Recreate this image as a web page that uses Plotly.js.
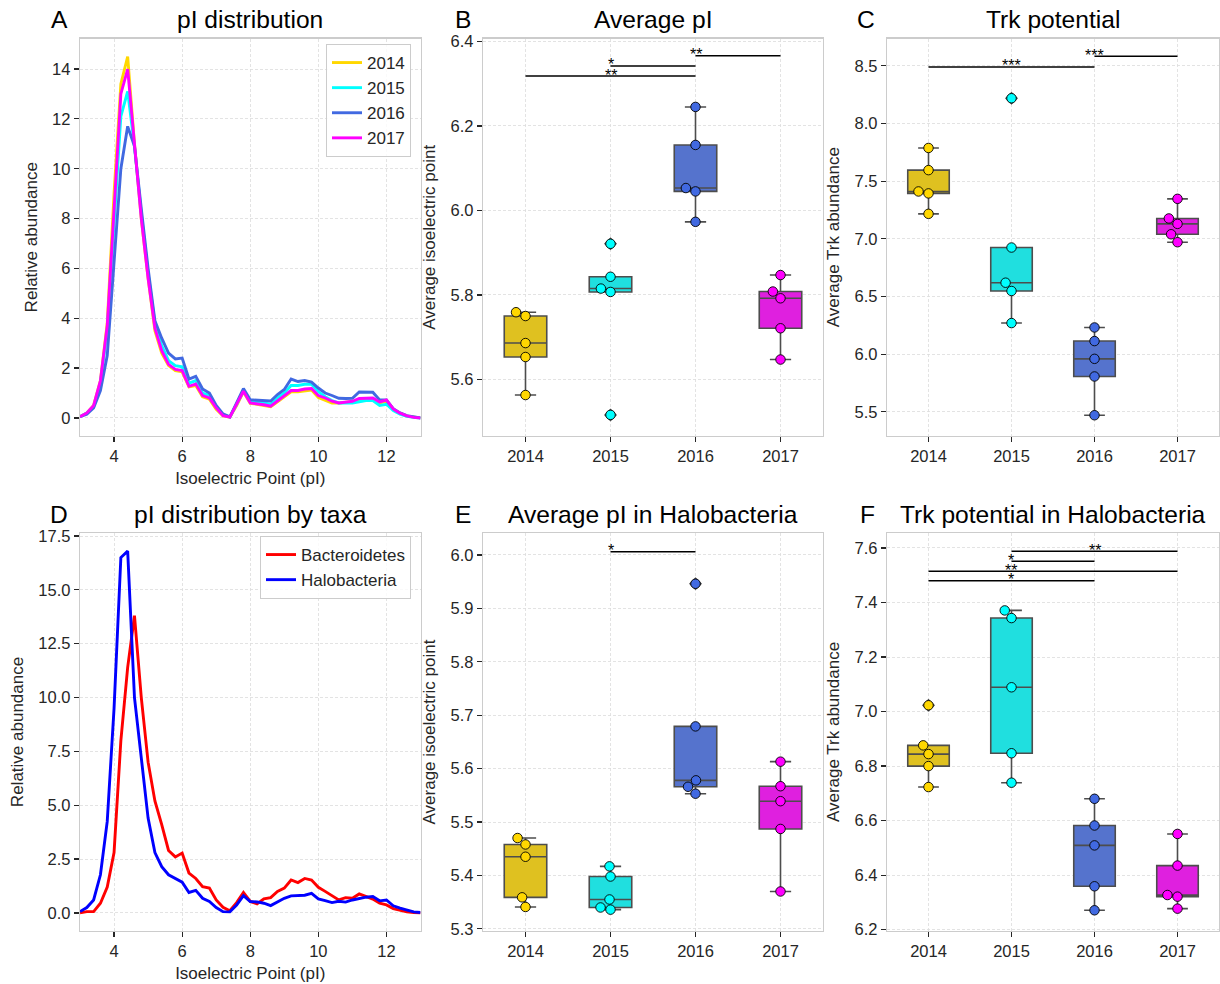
<!DOCTYPE html>
<html>
<head>
<meta charset="utf-8">
<script src="https://cdn.plot.ly/plotly-3.0.1.min.js"></script>
<style>html,body{margin:0;padding:0;background:#fff;}#chart{width:1220px;height:984px;}</style>
</head>
<body>
<div id="chart"></div>
<script>
// ---------------- data ----------------
const pI = [3.0,3.2,3.4,3.6,3.8,4.0,4.2,4.4,4.6,4.8,5.0,5.2,5.4,5.6,5.8,6.0,6.2,6.4,6.6,6.8,7.0,7.2,7.4,7.6,7.8,8.0,8.2,8.4,8.6,8.8,9.0,9.2,9.4,9.6,9.8,10.0,10.2,10.4,10.6,10.8,11.0,11.2,11.4,11.6,11.8,12.0,12.2,12.4,12.6,12.8,13.0];

const abund2014 = [0.05,0.2,0.5,1.5,3.8,9.0,13.4,14.5,11.0,8.0,5.6,3.5,2.6,2.1,1.9,1.85,1.25,1.3,0.85,0.75,0.35,0.08,0.03,0.5,1.05,0.58,0.55,0.5,0.45,0.65,0.85,1.05,1.05,1.1,1.12,0.82,0.72,0.6,0.6,0.62,0.65,0.72,0.75,0.75,0.6,0.68,0.34,0.18,0.07,0.02,0.0];
const abund2015 = [0.05,0.2,0.45,1.4,3.5,8.0,12.1,13.1,10.9,8.2,5.8,3.8,2.9,2.3,2.1,2.05,1.4,1.5,1.0,0.9,0.45,0.12,0.04,0.55,1.1,0.65,0.63,0.6,0.55,0.8,1.0,1.3,1.3,1.35,1.35,1.05,0.85,0.7,0.6,0.6,0.6,0.65,0.7,0.7,0.5,0.55,0.3,0.15,0.06,0.02,0.0];
const abund2016 = [0.05,0.15,0.4,1.1,2.5,6.3,10.0,11.7,10.9,8.4,6.0,3.9,3.2,2.6,2.37,2.4,1.56,1.67,1.16,1.0,0.5,0.16,0.04,0.6,1.18,0.73,0.71,0.7,0.68,0.94,1.14,1.56,1.46,1.5,1.44,1.2,1.0,0.9,0.79,0.78,0.79,1.04,1.04,1.03,0.72,0.72,0.37,0.2,0.09,0.03,0.0];
const abund2017 = [0.05,0.2,0.5,1.5,3.7,8.5,13.0,14.0,10.9,8.0,5.6,3.6,2.7,2.15,1.95,1.9,1.27,1.36,0.9,0.8,0.4,0.09,0.03,0.53,1.07,0.6,0.57,0.53,0.47,0.67,0.87,1.1,1.1,1.16,1.18,0.9,0.8,0.67,0.6,0.63,0.67,0.78,0.8,0.8,0.64,0.72,0.36,0.19,0.08,0.02,0.0];

const bacteroidetes = [0.0,0.06,0.06,0.45,1.2,2.8,8.0,11.4,13.8,10.0,7.0,5.2,4.1,2.9,2.6,2.78,1.85,1.6,1.22,1.15,0.6,0.26,0.1,0.48,0.95,0.53,0.42,0.65,0.71,1.0,1.15,1.53,1.41,1.6,1.53,1.19,1.0,0.79,0.6,0.71,0.68,0.88,0.76,0.64,0.45,0.37,0.2,0.11,0.05,0.02,0.0];
const halobacteria = [0.06,0.25,0.6,1.77,4.25,9.5,16.5,16.8,10.0,7.2,4.4,2.8,2.15,1.77,1.58,1.43,0.95,1.05,0.68,0.53,0.25,0.06,0.05,0.37,0.8,0.53,0.51,0.45,0.34,0.51,0.68,0.79,0.8,0.82,0.91,0.65,0.57,0.48,0.54,0.5,0.6,0.68,0.73,0.76,0.56,0.6,0.33,0.22,0.12,0.05,0.02];

const years = ['2014','2015','2016','2017'];

// Panel B: average pI
const avgPI_2014 = [5.759,5.750,5.686,5.653,5.563];
const avgPI_2015 = [5.921,5.843,5.815,5.807,5.516];
const avgPI_2016 = [6.245,6.155,6.053,6.045,5.973];
const avgPI_2017 = [5.847,5.808,5.792,5.721,5.647];
// Panel C: Trk potential
const trk_2014 = [7.788,7.596,7.411,7.394,7.217];
const trk_2015 = [8.219,6.925,6.620,6.548,6.270];
const trk_2016 = [6.232,6.114,5.960,5.807,5.471];
const trk_2017 = [7.347,7.177,7.130,7.040,6.971];
// Panel E: average pI in Halobacteria
const haloPI_2014 = [5.470,5.458,5.435,5.359,5.341];
const haloPI_2015 = [5.417,5.398,5.355,5.340,5.336];
const haloPI_2016 = [5.946,5.679,5.578,5.566,5.553];
const haloPI_2017 = [5.613,5.567,5.539,5.487,5.370];
// Panel F: Trk potential in Halobacteria
const haloTrk_2014 = [7.023,6.876,6.844,6.800,6.723];
const haloTrk_2015 = [7.371,7.343,7.089,6.847,6.739];
const haloTrk_2016 = [6.680,6.582,6.509,6.359,6.271];
const haloTrk_2017 = [6.551,6.435,6.327,6.321,6.277];

// significance bars: [from year index, to year index], bar level, label
const sigB_pairs = [[0,2],[1,2],[2,3]];
const sigB_levels = [6.318,6.342,6.366];
const sigB_labels = ['**','*','**'];
const sigC_pairs = [[0,2],[2,3]];
const sigC_levels = [8.491,8.584];
const sigC_labels = ['***','***'];
const sigE_pairs = [[1,2]];
const sigE_levels = [6.006];
const sigE_labels = ['*'];
const sigF_pairs = [[0,2],[0,3],[1,2],[1,3]];
const sigF_levels = [7.480,7.515,7.551,7.588];
const sigF_labels = ['*','**','*','**'];

// ---------------- style ----------------
const FONT = 'Liberation Sans, Arial, Helvetica, sans-serif';
const lineColors = ['#FFD700','#00FFFF','#4169E1','#FF00FF'];
const boxFill = ['#DFC120','#20DFDF','#5573CD','#DF20DF'];
const edgeGray = '#4d4d4d';
const W = 1220, H = 984;
const colPx = [[80,420.5],[483,823],[887,1219]];
const rowPx = [[38.5,436],[533,931]];
const dom = {
  x: colPx.map(c => [c[0]/W, c[1]/W]),
  y: rowPx.map(r => [1 - r[1]/H, 1 - r[0]/H])
};

const traces = [];
const annotations = [];

// line panels
const lineSeries = [abund2014, abund2015, abund2016, abund2017];
lineSeries.forEach((s, i) => {
  traces.push({type:'scatter', mode:'lines', x:pI, y:s, name:years[i],
    line:{color:lineColors[i], width:2.9}, xaxis:'x', yaxis:'y', legend:'legend', hoverinfo:'skip'});
});
traces.push({type:'scatter', mode:'lines', x:pI, y:bacteroidetes, name:'Bacteroidetes',
  line:{color:'#FF0000', width:2.9}, xaxis:'x4', yaxis:'y4', legend:'legend2', hoverinfo:'skip'});
traces.push({type:'scatter', mode:'lines', x:pI, y:halobacteria, name:'Halobacteria',
  line:{color:'#0000FF', width:2.9}, xaxis:'x4', yaxis:'y4', legend:'legend2', hoverinfo:'skip'});

// swarm offsets (pixel space), like seaborn's beeswarm
function swarm(vals, pxPerY, d) {
  const idx = vals.map((v,i)=>i).sort((a,b)=>vals[a]-vals[b]);
  const placed = []; const off = new Array(vals.length).fill(0);
  for (const i of idx) {
    const y = vals[i]*pxPerY;
    const cands = [0];
    for (const p of placed) {
      const dyy = Math.abs(y - p.y);
      if (dyy < d) { const dxx = Math.sqrt(d*d - dyy*dyy); cands.push(p.x - dxx, p.x + dxx); }
    }
    cands.sort((a,b) => (Math.abs(a) - Math.abs(b)) || (a - b));
    let chosen = 0;
    for (const c of cands) {
      if (placed.every(p => (p.x-c)*(p.x-c) + (p.y-y)*(p.y-y) >= d*d - 1e-6)) { chosen = c; break; }
    }
    placed.push({x:chosen, y:y}); off[i] = chosen;
  }
  return off;
}

const boxPanels = [
  {ax:'2', col:1, row:0, groups:[avgPI_2014,avgPI_2015,avgPI_2016,avgPI_2017], range:[5.466,6.407], dtick:0.2, pairs:sigB_pairs, levels:sigB_levels, labels:sigB_labels,
   ytitle:'Average isoelectric point'},
  {ax:'3', col:2, row:0, groups:[trk_2014,trk_2015,trk_2016,trk_2017], range:[5.291,8.737], dtick:0.5, pairs:sigC_pairs, levels:sigC_levels, labels:sigC_labels,
   ytitle:'Average Trk abundance'},
  {ax:'5', col:1, row:1, groups:[haloPI_2014,haloPI_2015,haloPI_2016,haloPI_2017], range:[5.296,6.041], dtick:0.1, pairs:sigE_pairs, levels:sigE_levels, labels:sigE_labels,
   ytitle:'Average isoelectric point'},
  {ax:'6', col:2, row:1, groups:[haloTrk_2014,haloTrk_2015,haloTrk_2016,haloTrk_2017], range:[6.195,7.655], dtick:0.2, pairs:sigF_pairs, levels:sigF_levels, labels:sigF_labels,
   ytitle:'Average Trk abundance'}
];

boxPanels.forEach(P => {
  const xa = 'x'+P.ax, ya = 'y'+P.ax;
  const plotH = rowPx[P.row][1] - rowPx[P.row][0];
  const plotW = colPx[P.col][1] - colPx[P.col][0];
  const pxPerY = plotH / (P.range[1] - P.range[0]);
  const pxPerX = plotW / 4;
  P.groups.forEach((vals, g) => {
    traces.push({type:'box', y:vals, x0:g, width:0.5, xaxis:xa, yaxis:ya, showlegend:false,
      fillcolor:boxFill[g], line:{color:edgeGray, width:1.6}, whiskerwidth:0.5,
      quartilemethod:'inclusive', boxpoints:'outliers', pointpos:0, jitter:0,
      marker:{symbol:'diamond', size:10, color:edgeGray, line:{width:0}}, hoverinfo:'skip'});
    const off = swarm(vals, pxPerY, 10.2);
    traces.push({type:'scatter', mode:'markers', x:off.map(o => g + o/pxPerX), y:vals, xaxis:xa, yaxis:ya, showlegend:false,
      marker:{size:9.5, color:lineColors[g], line:{color:'#000000', width:0.9}}, hoverinfo:'skip'});
  });
  P.pairs.forEach((pr, k) => {
    traces.push({type:'scatter', mode:'lines', x:[pr[0], pr[1]], y:[P.levels[k], P.levels[k]], xaxis:xa, yaxis:ya,
      showlegend:false, line:{color:'#000000', width:1.5}, hoverinfo:'skip'});
    annotations.push({xref:xa, yref:ya, x:Math.floor((pr[0]+pr[1])/2), y:P.levels[k], text:P.labels[k], showarrow:false,
      xanchor:'center', yanchor:'middle', yshift:1, font:{family:FONT, size:16, color:'#000000'}});
  });
});

// titles & letters
const panelTitles = [
  {ax:'', text:'pI distribution', letter:'A'},
  {ax:'2', text:'Average pI', letter:'B'},
  {ax:'3', text:'Trk potential', letter:'C'},
  {ax:'4', text:'pI distribution by taxa', letter:'D'},
  {ax:'5', text:'Average pI in Halobacteria', letter:'E'},
  {ax:'6', text:'Trk potential in Halobacteria', letter:'F'}
];
panelTitles.forEach(t => {
  annotations.push({xref:'x'+t.ax+' domain', yref:'y'+t.ax+' domain', x:0.5, y:1, xanchor:'center', yanchor:'bottom', yshift:3,
    text:t.text, showarrow:false, font:{family:FONT, size:24.6, color:'#000000'}});
  annotations.push({xref:'x'+t.ax+' domain', yref:'y'+t.ax+' domain', x:0, y:1, xanchor:'right', yanchor:'bottom', yshift:3, xshift:-10,
    text:t.letter, showarrow:false, font:{family:FONT, size:24.6, color:'#000000'}});
});

const axBase = {showline:true, mirror:true, linecolor:'#cccccc', linewidth:1.25, ticks:'outside', ticklen:5, tickwidth:1.2,
  tickcolor:'#262626', showgrid:true, gridcolor:'#dcdcdc', griddash:'3px,2px', gridwidth:0.8, zeroline:false,
  tickfont:{family:FONT, size:16.5, color:'#262626'}, fixedrange:true, automargin:false};
const titleFont = {family:FONT, size:17, color:'#262626'};

function ax(extra) { return Object.assign({}, axBase, extra); }

const layout = {
  width:W, height:H, margin:{l:0, r:0, t:0, b:0}, paper_bgcolor:'#ffffff', plot_bgcolor:'#ffffff',
  font:{family:FONT, color:'#262626'}, showlegend:true, boxmode:'overlay',
  annotations: annotations,
  legend:{x:411/W, y:1-44/H, xanchor:'right', yanchor:'top', bgcolor:'rgba(255,255,255,0.8)', bordercolor:'#cccccc', borderwidth:1,
    font:{family:FONT, size:17, color:'#262626'}},
  legend2:{x:411/W, y:1-536/H, xanchor:'right', yanchor:'top', bgcolor:'rgba(255,255,255,0.8)', bordercolor:'#cccccc', borderwidth:1,
    font:{family:FONT, size:17, color:'#262626'}},
  xaxis: ax({domain:dom.x[0], anchor:'y', range:[3,13], tickvals:[4,6,8,10,12], title:{text:'Isoelectric Point (pI)', font:titleFont, standoff:8}}),
  yaxis: ax({domain:dom.y[0], anchor:'x', range:[-0.725,15.225], dtick:2, tick0:0, title:{text:'Relative abundance', font:titleFont, standoff:10}}),
  xaxis4: ax({domain:dom.x[0], anchor:'y4', range:[3,13], tickvals:[4,6,8,10,12], title:{text:'Isoelectric Point (pI)', font:titleFont, standoff:8}}),
  yaxis4: ax({domain:dom.y[1], anchor:'x4', range:[-0.84,17.64], dtick:2.5, tick0:0, tickformat:'.1f', title:{text:'Relative abundance', font:titleFont, standoff:10}})
};
boxPanels.forEach(P => {
  layout['xaxis'+P.ax] = ax({domain:dom.x[P.col], anchor:'y'+P.ax, range:[-0.5,3.5], tickvals:[0,1,2,3], ticktext:years});
  layout['yaxis'+P.ax] = ax({domain:dom.y[P.row], anchor:'x'+P.ax, range:P.range, dtick:P.dtick, tick0:0, tickformat:'.1f',
    title:{text:P.ytitle, font:titleFont, standoff:10}});
});

Plotly.newPlot('chart', traces, layout, {staticPlot:true, displayModeBar:false});
</script>
</body>
</html>
